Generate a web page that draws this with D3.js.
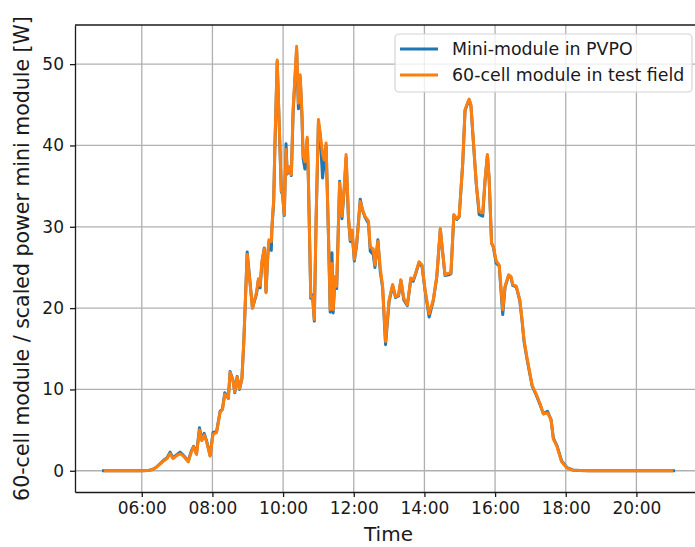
<!DOCTYPE html>
<html>
<head>
<meta charset="utf-8">
<script src="https://cdn.jsdelivr.net/npm/d3@7"></script>
<style>
  body { margin: 0; background: #fff; }
  svg { display: block; font-family: "DejaVu Sans", sans-serif; }
</style>
</head>
<body>
<svg width="695" height="547"></svg>
<script>
// sample times (hh:mm) for both series
var times = [
  "04:55","04:58","05:30","06:00","06:10","06:18","06:24","06:30","06:37","06:43",
  "06:48","06:53","07:00","07:05","07:12","07:19","07:24","07:28","07:33","07:38",
  "07:42","07:46","07:50","07:56","08:01","08:07","08:13","08:17","08:21","08:27",
  "08:30","08:35","08:38","08:42","08:46","08:50","08:53","08:56","08:59","09:08",
  "09:15","09:18","09:21","09:24","09:28","09:31","09:34","09:36","09:40","09:41",
  "09:44","09:46","09:50","09:57","09:59","10:02","10:05","10:07","10:11","10:14",
  "10:17","10:23","10:26","10:29","10:32","10:34","10:37","10:41","10:43","10:47",
  "10:50","10:53","10:56","11:00","11:03","11:07","11:10","11:13","11:17","11:20",
  "11:23","11:25","11:28","11:31","11:36","11:40","11:44","11:47","11:51","11:54",
  "11:57","12:01","12:05","12:11","12:15","12:19","12:25","12:28","12:33","12:36",
  "12:41","12:45","12:49","12:54","13:00","13:06","13:11","13:16","13:20","13:25",
  "13:31","13:37","13:41","13:45","13:51","13:56","14:01","14:08","14:15","14:21",
  "14:27","14:30","14:35","14:41","14:45","14:50","14:55","14:59","15:05","15:09",
  "15:13","15:16","15:19","15:23","15:28","15:33","15:39","15:43","15:47","15:50",
  "15:54","15:57","16:02","16:07","16:13","16:17","16:23","16:27","16:30","16:36",
  "16:42","16:46","16:49","16:54","17:03","17:10","17:16","17:22","17:29","17:35",
  "17:39","17:45","17:53","18:02","18:12","18:24","18:40","19:30","20:30","21:00",
  "21:03"
];

// Mini-module in PVPO (scaled power, W)
var miniModule = [
  0,0,0,0,0.02,0.15,0.4,0.8,1.3,1.6,
  2.3,1.6,2.0,2.3,1.8,1.2,2.4,3.0,2.1,5.3,
  3.8,4.6,3.7,1.9,4.7,4.8,7.3,7.6,9.6,8.9,
  12.2,11.1,9.6,11.6,10.0,11.3,15.4,21.0,26.9,20.0,
  21.8,23.4,22.5,25.5,27.4,22.0,26.4,28.2,27.1,29.8,
  33.0,39.6,50.3,34.3,34.0,31.4,40.2,36.5,37.2,36.3,
  44.0,51.8,44.5,48.4,43.6,38.4,37.1,40.8,35.6,21.2,
  21.6,18.4,30.6,42.8,41.3,36.0,38.0,40.0,29.0,19.5,
  26.8,19.4,23.6,22.4,35.6,31.0,34.8,38.5,31.0,28.2,
  29.4,25.8,27.8,33.4,32.0,31.2,30.4,27.0,26.6,25.0,
  28.4,24.5,22.5,15.5,20.8,22.8,21.3,21.5,23.4,21.0,
  20.3,23.6,23.3,24.2,25.6,25.1,22.2,18.9,20.9,23.8,
  29.7,27.5,24.0,24.1,24.2,31.4,30.9,31.2,37.7,44.3,
  45.1,45.6,44.9,40.6,35.3,31.5,31.3,35.7,38.8,35.7,
  28.0,27.5,25.5,25.2,19.2,22.6,24.0,23.8,22.8,22.6,
  20.9,18.3,16.0,13.8,10.4,9.3,8.2,7.0,7.3,6.3,
  4.0,3.1,1.2,0.4,0.1,0.02,0,0,0,0,
  0
];

// 60-cell module in test field (W)
var testField = [
  null,0,0,0,0.02,0.15,0.4,0.75,1.2,1.5,
  2.1,1.5,1.9,2.1,1.7,1.1,2.3,2.9,2.0,5.0,
  3.7,4.4,3.6,1.8,4.5,4.7,7.2,7.5,9.4,8.9,
  12.1,11.0,9.7,11.5,10.1,11.4,15.5,21.0,26.6,20.0,
  22.0,23.6,22.8,25.8,27.3,21.9,26.7,28.4,28.2,30.0,
  33.3,39.9,50.5,34.4,34.2,31.5,39.5,36.6,37.4,36.4,
  44.4,52.2,45.2,48.7,44.0,38.8,38.0,41.0,35.8,21.4,
  21.4,18.6,30.9,43.2,41.5,39.0,38.2,40.3,29.2,19.8,
  25.5,19.8,23.9,22.7,35.4,31.3,35.0,38.9,31.3,28.4,
  29.6,26.0,28.0,33.1,32.1,31.3,30.7,27.5,27.3,25.3,
  28.2,24.9,22.7,15.9,21.0,22.9,21.4,21.6,23.5,21.2,
  20.4,23.7,23.5,24.3,25.7,25.3,22.3,19.3,21.0,23.9,
  29.8,27.6,24.1,24.3,24.3,31.5,31.0,31.3,37.8,44.4,
  45.2,45.7,45.0,40.7,35.4,31.9,31.7,35.8,38.9,35.8,
  28.0,27.6,25.8,25.3,19.8,22.7,24.1,23.9,22.9,22.7,
  21.0,18.5,16.2,14.0,10.5,9.4,8.3,7.0,7.1,6.3,
  3.9,3.0,1.1,0.35,0.08,0.02,0,0,0,0,
  null
];

var seriesNames = ["Mini-module in PVPO", "60-cell module in test field"];
var seriesColors = ["#1f77b4", "#ff7f0e"];

var svg = d3.select("svg"),
    margin = {left: 75, top: 25, right: 702, bottom: 492};

var parseTime = d3.timeParse("%H:%M");
var t = times.map(parseTime);

var series = [miniModule, testField].map(function(vals) {
    return vals.map(function(v, i) { return {t: t[i], v: v}; });
});

// matplotlib style 5% margins
var tExt = d3.extent(t);
var tPad = (tExt[1] - tExt[0]) * 0.05;
var allV = miniModule.concat(testField).filter(function(v) { return v != null; });
var vExt = d3.extent(allV);
var vPad = (vExt[1] - vExt[0]) * 0.05;

var x = d3.scaleTime()
    .domain([new Date(+tExt[0] - tPad), new Date(+tExt[1] + tPad)])
    .range([margin.left, margin.right]);

var y = d3.scaleLinear()
    .domain([vExt[0] - vPad, vExt[1] + vPad])
    .range([margin.bottom, margin.top]);

var xTicks = x.ticks(d3.timeHour.every(2));
var yTicks = [0, 10, 20, 30, 40, 50];

// grid
var grid = svg.append("g");
grid.selectAll(".gx").data(xTicks).enter().append("line")
    .attr("x1", function(d) { return x(d); })
    .attr("x2", function(d) { return x(d); })
    .attr("y1", margin.top).attr("y2", margin.bottom)
    .attr("stroke", "#b0b0b0").attr("stroke-width", 1.3);
grid.selectAll(".gy").data(yTicks).enter().append("line")
    .attr("x1", margin.left).attr("x2", margin.right)
    .attr("y1", function(d) { return y(d); })
    .attr("y2", function(d) { return y(d); })
    .attr("stroke", "#b0b0b0").attr("stroke-width", 1.3);

svg.append("clipPath").attr("id", "clip")
  .append("rect")
    .attr("x", margin.left).attr("y", margin.top)
    .attr("width", margin.right - margin.left)
    .attr("height", margin.bottom - margin.top);

var line = d3.line()
    .defined(function(d) { return d.v != null; })
    .x(function(d) { return x(d.t); })
    .y(function(d) { return y(d.v); });

svg.append("g").attr("clip-path", "url(#clip)")
  .selectAll("path").data(series).enter().append("path")
    .attr("d", line)
    .attr("fill", "none")
    .attr("stroke", function(d, i) { return seriesColors[i]; })
    .attr("stroke-width", 3)
    .attr("stroke-linejoin", "round")
    .attr("stroke-linecap", "square");

// axes
var xAxis = svg.append("g")
    .attr("transform", "translate(0," + margin.bottom + ")")
    .call(d3.axisBottom(x).tickValues(xTicks).tickFormat(d3.timeFormat("%H:%M"))
        .tickSize(5).tickSizeOuter(0).tickPadding(5));
var yAxis = svg.append("g")
    .attr("transform", "translate(" + margin.left + ",0)")
    .call(d3.axisLeft(y).tickValues(yTicks).tickSize(5).tickSizeOuter(0).tickPadding(6));

[xAxis, yAxis].forEach(function(a) {
    a.select(".domain").attr("stroke", "#1a1a1a").attr("stroke-width", 1.3);
    a.selectAll(".tick line").attr("stroke", "#1a1a1a").attr("stroke-width", 1.3);
    a.selectAll(".tick text").attr("fill", "#1a1a1a")
        .style("font-size", "17px").style("font-family", "DejaVu Sans");
});

// top spine
svg.append("line")
    .attr("x1", margin.left).attr("x2", margin.right)
    .attr("y1", margin.top).attr("y2", margin.top)
    .attr("stroke", "#1a1a1a").attr("stroke-width", 1.3);

// axis labels
svg.append("text")
    .attr("x", (margin.left + margin.right) / 2)
    .attr("y", 541)
    .attr("text-anchor", "middle")
    .attr("fill", "#1a1a1a")
    .style("font-size", "20px")
    .text("Time");

svg.append("text")
    .attr("transform", "translate(28.5," + (margin.top + margin.bottom) / 2 + ") rotate(-90)")
    .attr("text-anchor", "middle")
    .attr("fill", "#1a1a1a")
    .style("font-size", "20.5px")
    .text("60-cell module / scaled power mini module [W]");

// legend
var legend = svg.append("g");
legend.append("rect")
    .attr("x", 395).attr("y", 34).attr("width", 297).attr("height", 58)
    .attr("rx", 4)
    .attr("fill", "#fff").attr("fill-opacity", 0.8)
    .attr("stroke", "#d4d4d4").attr("stroke-width", 1.2);

var items = legend.selectAll(".item").data(seriesNames).enter().append("g")
    .attr("transform", function(d, i) { return "translate(0," + (49 + i * 26) + ")"; });
items.append("line")
    .attr("x1", 400).attr("x2", 438)
    .attr("stroke", function(d, i) { return seriesColors[i]; })
    .attr("stroke-width", 3);
items.append("text")
    .attr("x", 452).attr("y", 6)
    .attr("fill", "#1a1a1a")
    .style("font-size", "17.4px")
    .text(function(d) { return d; });
</script>
</body>
</html>
